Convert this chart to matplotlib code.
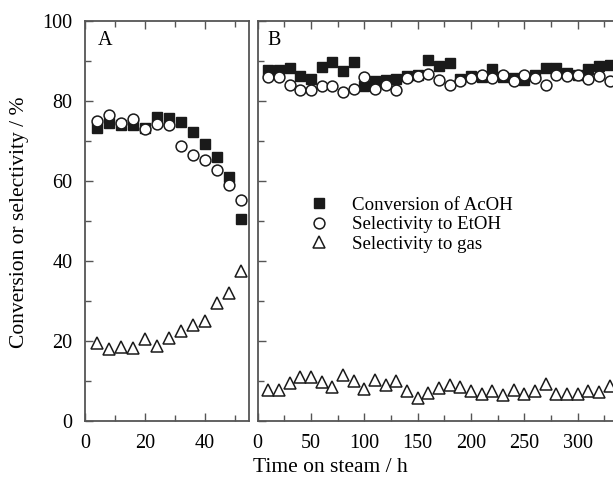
import matplotlib
matplotlib.use('Agg')
import matplotlib.pyplot as plt
from matplotlib.ticker import MultipleLocator

plt.rcParams['font.family'] = ['Liberation Serif', 'DejaVu Serif']
plt.rcParams['font.size'] = 14

# panel A data
t_a = [4, 8, 12, 16, 20, 24, 28, 32, 36, 40, 44, 48, 52]
conv_a = [73.2, 74.4, 74.0, 74.0, 73.3, 75.9, 75.7, 74.8, 72.3, 69.2, 65.9, 61.0, 50.4]
etoh_a = [75.0, 76.5, 74.4, 75.4, 72.9, 74.3, 74.0, 68.8, 66.5, 65.2, 62.7, 59.0, 55.2]
gas_a = [19.4, 17.9, 18.4, 18.2, 20.4, 18.7, 20.7, 22.6, 24.0, 25.1, 29.4, 32.1, 37.6]

# panel B data
t_b = [10, 20, 30, 40, 50, 60, 70, 80, 90, 100, 110, 120, 130, 140, 150, 160, 170,
       180, 190, 200, 210, 220, 230, 240, 250, 260, 270, 280, 290, 300, 310, 320, 330]
conv_b = [87.8, 87.8, 88.2, 86.3, 85.5, 88.6, 89.8, 87.5, 89.8, 83.8, 85.0, 85.3, 85.5,
          86.3, 86.5, 90.3, 88.8, 89.4, 85.5, 86.3, 86.1, 88.0, 86.1, 85.7, 85.3, 86.5,
          88.2, 88.3, 87.0, 86.5, 88.0, 88.8, 89.0]
etoh_b = [85.9, 85.9, 84.0, 82.8, 82.8, 83.8, 83.8, 82.3, 82.9, 85.9, 82.9, 84.0, 82.8,
          85.7, 86.3, 86.8, 85.3, 84.0, 85.0, 85.7, 86.5, 85.8, 86.5, 85.0, 86.5, 85.8,
          84.0, 86.5, 86.2, 86.5, 85.4, 86.2, 85.0]
gas_b = [7.8, 7.8, 9.6, 11.1, 11.1, 9.8, 8.6, 11.5, 10.1, 7.9, 10.3, 9.0, 10.1, 7.6,
         5.7, 6.9, 8.2, 9.0, 8.6, 7.5, 6.8, 7.6, 6.5, 7.8, 6.8, 7.6, 9.2, 6.7, 6.7,
         6.7, 7.5, 7.2, 8.7]

labels = ['Conversion of AcOH', 'Selectivity to EtOH', 'Selectivity to gas']

W, H = 613, 479
fig = plt.figure(figsize=(W / 100, H / 100), dpi=100)
ax_a = fig.add_axes([85 / W, 1 - 421 / H, (249 - 85) / W, 400 / H])
ax_b = fig.add_axes([257.5 / W, 1 - 421 / H, (613 - 257.5) / W, 400 / H])

spine_col = '#555555'


def draw(ax, t, conv, etoh, gas):
    ax.plot(t, conv, ls='none', marker='s', ms=7.4, mfc='#1a1a1a', mec='#1a1a1a',
            label=labels[0], zorder=3)
    ax.plot(t, etoh, ls='none', marker='o', ms=7.8, mfc='white', mec='#1a1a1a',
            mew=1.1, label=labels[1], zorder=4)
    ax.plot(t, gas, ls='none', marker='^', ms=8.7, mfc='white', mec='#1a1a1a',
            mew=1.1, label=labels[2], zorder=4)
    ax.set_ylim(0, 100)
    ax.yaxis.set_major_locator(MultipleLocator(20))
    ax.yaxis.set_minor_locator(MultipleLocator(10))
    ax.tick_params(which='both', direction='in', color=spine_col, top=True,
                   labelsize=14.5, pad=9)
    ax.tick_params(which='major', length=6, width=1)
    ax.tick_params(which='minor', length=4, width=1)
    for s in ax.spines.values():
        s.set_color(spine_col)
        s.set_linewidth(1.3)


draw(ax_a, t_a, conv_a, etoh_a, gas_a)
ax_a.set_xlim(0, 54.7)
ax_a.xaxis.set_major_locator(MultipleLocator(20))
ax_a.xaxis.set_minor_locator(MultipleLocator(10))
ax_a.text(0.08, 0.975, 'A', transform=ax_a.transAxes, fontsize=14.5, va='top')

draw(ax_b, t_b, conv_b, etoh_b, gas_b)
ax_b.set_xlim(0, 333)
ax_b.xaxis.set_major_locator(MultipleLocator(50))
ax_b.xaxis.set_minor_locator(MultipleLocator(25))
ax_b.tick_params(axis='y', which='both', labelleft=False)
ax_b.spines['right'].set_visible(False)
ax_b.text(0.028, 0.975, 'B', transform=ax_b.transAxes, fontsize=14.5, va='top')
ax_b.legend(loc='upper left', bbox_to_anchor=(0.1, 0.58), frameon=False, fontsize=13.6,
            handletextpad=0.7, labelspacing=0.12, borderaxespad=0)

fig.text(20 / W, 1 - 222 / H, 'Conversion or selectivity / %', fontsize=15.5,
         rotation=90, ha='center', va='center')
fig.text(330 / W, 1 - 467 / H, 'Time on steam / h', fontsize=15.5,
         ha='center', va='center')

fig.savefig('out.png', dpi=100)
